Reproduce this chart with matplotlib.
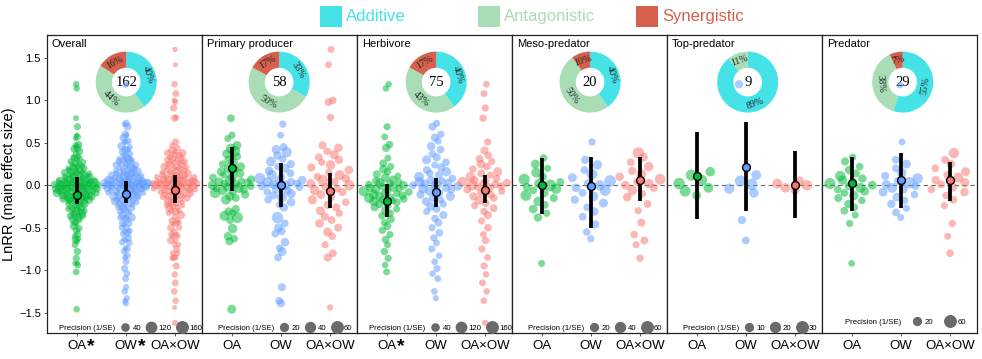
import numpy as np
import matplotlib.pyplot as plt
from matplotlib.lines import Line2D
from matplotlib.patches import Rectangle

plt.rcParams['font.family'] = ['Liberation Sans', 'DejaVu Sans']

# interaction-type colours and per-factor point colours
c_add = '#45E3E8'
c_ant = '#A8DDB5'
c_syn = '#D6604D'
col_oa = '#00BA38'
col_ow = '#619CFF'
col_int = '#F8766D'

groups = ['Overall', 'Primary producer', 'Herbivore', 'Meso-predator', 'Top-predator', 'Predator']
factors = ['OA', 'OW', 'OA×OW']

# effect sizes per study as (lnRR, precision 1/SE)
pp_oa = [(0.79, 20), (0.59, 15), (0.55, 14), (0.47, 28), (0.43, 45), (0.40, 52), (0.37, 30), (0.34, 18),
         (0.30, 22), (0.27, 35), (0.25, 16), (0.22, 24), (0.20, 40), (0.18, 18), (0.16, 30), (0.14, 26),
         (0.12, 14), (0.10, 38), (0.09, 20), (0.07, 22), (0.06, 48), (0.05, 16), (0.04, 30), (0.03, 24),
         (0.02, 18), (0.01, 26), (0.00, 35), (-0.01, 20), (-0.02, 28), (-0.03, 42), (-0.04, 16), (-0.05, 25),
         (-0.06, 32), (-0.08, 18), (-0.09, 45), (-0.11, 22), (-0.13, 30), (-0.15, 20), (-0.17, 38), (-0.28, 22),
         (-0.31, 26), (-0.33, 18), (-0.36, 40), (-0.38, 52), (-0.41, 20), (-0.51, 35), (-0.60, 24), (-0.63, 18),
         (-0.66, 22), (-1.46, 30)]
pp_ow = [(0.72, 16), (0.59, 14), (0.45, 20), (0.42, 32), (0.39, 45), (0.35, 24), (0.31, 18), (0.28, 38),
         (0.25, 22), (0.22, 16), (0.20, 30), (0.17, 26), (0.14, 20), (0.12, 42), (0.10, 18), (0.08, 55),
         (0.06, 28), (0.05, 35), (0.04, 22), (0.03, 48), (0.02, 18), (0.01, 30), (0.00, 40), (-0.01, 24),
         (-0.02, 20), (-0.04, 34), (-0.06, 26), (-0.08, 18), (-0.10, 30), (-0.12, 22), (-0.14, 44), (-0.17, 20),
         (-0.20, 26), (-0.23, 16), (-0.26, 24), (-0.38, 58), (-0.45, 20), (-0.50, 28), (-0.54, 22), (-0.57, 18),
         (-0.67, 26), (-0.74, 16), (-0.78, 30), (-0.85, 20), (-1.20, 22), (-1.36, 18), (-1.39, 24)]
pp_int = [(1.60, 14), (1.42, 12), (1.00, 18), (0.98, 20), (0.80, 16), (0.47, 22), (0.44, 26), (0.40, 18),
          (0.36, 30), (0.33, 20), (0.30, 24), (0.27, 16), (0.24, 35), (0.21, 22), (0.18, 28), (0.15, 18),
          (0.12, 40), (0.10, 20), (0.08, 26), (0.06, 48), (0.04, 22), (0.02, 30), (0.00, 45), (-0.02, 24),
          (-0.04, 18), (-0.06, 36), (-0.08, 22), (-0.11, 28), (-0.14, 20), (-0.17, 32), (-0.20, 18), (-0.23, 26),
          (-0.26, 22), (-0.30, 30), (-0.33, 16), (-0.37, 24), (-0.41, 20), (-0.45, 28), (-0.50, 22), (-0.55, 30),
          (-0.60, 18), (-0.70, 16), (-0.80, 20), (-0.85, 24), (-1.44, 10)]

hb_oa = [(1.19, 30), (1.14, 28), (0.69, 40), (0.57, 35), (0.48, 45), (0.44, 60), (0.32, 38), (0.26, 50),
         (0.22, 40), (0.19, 70), (0.16, 45), (0.13, 55), (0.11, 35), (0.09, 80), (0.07, 50), (0.05, 60),
         (0.04, 40), (0.03, 90), (0.02, 55), (0.01, 45), (0.00, 70), (-0.01, 50), (-0.02, 100), (-0.03, 60),
         (-0.04, 45), (-0.05, 80), (-0.06, 55), (-0.07, 120), (-0.08, 50), (-0.09, 65), (-0.10, 40), (-0.11, 90),
         (-0.12, 55), (-0.13, 70), (-0.14, 45), (-0.15, 110), (-0.16, 50), (-0.17, 60), (-0.18, 40), (-0.19, 85),
         (-0.20, 55), (-0.22, 70), (-0.24, 45), (-0.26, 60), (-0.28, 40), (-0.30, 75), (-0.33, 50), (-0.36, 45),
         (-0.40, 60), (-0.44, 40), (-0.48, 55), (-0.53, 45), (-0.58, 40), (-0.64, 50), (-0.70, 35), (-0.78, 45),
         (-0.86, 40), (-0.94, 30), (-1.02, 35)]
hb_ow = [(0.73, 40), (0.69, 55), (0.60, 45), (0.56, 60), (0.52, 40), (0.46, 70), (0.42, 50), (0.37, 45),
         (0.33, 60), (0.30, 80), (0.27, 50), (0.24, 40), (0.21, 65), (0.18, 55), (0.16, 90), (0.14, 45),
         (0.12, 60), (0.10, 110), (0.08, 50), (0.06, 70), (0.05, 45), (0.04, 100), (0.03, 55), (0.02, 65),
         (0.01, 130), (0.00, 50), (-0.01, 80), (-0.02, 45), (-0.03, 60), (-0.04, 95), (-0.05, 50), (-0.07, 70),
         (-0.09, 45), (-0.11, 60), (-0.13, 85), (-0.15, 50), (-0.17, 40), (-0.19, 65), (-0.22, 45), (-0.25, 75),
         (-0.28, 50), (-0.31, 40), (-0.35, 60), (-0.39, 45), (-0.44, 55), (-0.50, 40), (-0.56, 50), (-0.62, 45),
         (-0.68, 35), (-0.75, 40), (-0.83, 30), (-0.90, 35), (-0.98, 40), (-1.04, 30), (-1.10, 35), (-1.25, 30),
         (-1.33, 25)]
hb_int = [(1.19, 30), (1.08, 35), (0.91, 40), (0.79, 45), (0.51, 40), (0.41, 60), (0.35, 45), (0.31, 55),
          (0.28, 40), (0.25, 70), (0.22, 50), (0.19, 45), (0.16, 80), (0.14, 55), (0.12, 40), (0.10, 95),
          (0.08, 50), (0.06, 65), (0.05, 45), (0.04, 110), (0.03, 55), (0.02, 70), (0.01, 50), (0.00, 120),
          (-0.01, 60), (-0.02, 45), (-0.03, 85), (-0.05, 55), (-0.07, 40), (-0.09, 70), (-0.11, 50), (-0.13, 60),
          (-0.15, 45), (-0.18, 75), (-0.21, 50), (-0.24, 40), (-0.27, 55), (-0.31, 45), (-0.35, 60), (-0.42, 40),
          (-0.50, 50), (-0.58, 35), (-0.65, 45), (-0.75, 40), (-0.85, 35), (-0.95, 40), (-1.05, 30), (-1.15, 35),
          (-1.25, 30), (-1.36, 30), (-1.62, 25)]

ms_oa = [(0.32, 20), (0.25, 30), (0.20, 15), (0.15, 40), (0.10, 25), (0.07, 55), (0.04, 20), (0.02, 35),
         (0.00, 60), (-0.02, 25), (-0.04, 45), (-0.06, 18), (-0.09, 30), (-0.12, 50), (-0.15, 22), (-0.19, 35),
         (-0.23, 20), (-0.28, 28), (-0.33, 16), (-0.38, 24), (-0.92, 14)]
ms_ow = [(0.51, 16), (0.30, 22), (0.24, 35), (0.18, 20), (0.13, 50), (0.09, 30), (0.05, 62), (0.02, 25),
         (0.00, 45), (-0.03, 28), (-0.06, 55), (-0.09, 20), (-0.13, 38), (-0.17, 24), (-0.21, 30), (-0.26, 18),
         (-0.31, 26), (-0.37, 20), (-0.46, 22), (-0.55, 18), (-0.63, 16)]
ms_int = [(0.38, 60), (0.33, 28), (0.27, 20), (0.22, 35), (0.17, 22), (0.13, 40), (0.10, 25), (0.07, 50),
          (0.04, 20), (0.02, 32), (0.00, 28), (-0.03, 22), (-0.06, 38), (-0.10, 18), (-0.14, 26), (-0.22, 20),
          (-0.30, 16), (-0.44, 22), (-0.58, 18), (-0.65, 20), (-0.70, 14), (-0.86, 16)]

tp_oa = [(0.16, 18), (0.12, 28), (0.06, 22), (0.02, 30), (-0.03, 20), (-0.07, 25), (-0.12, 15)]
tp_ow = [(1.19, 12), (0.12, 20), (0.05, 28), (0.01, 30), (-0.04, 22), (-0.09, 18), (-0.41, 12), (-0.65, 10)]
tp_int = [(0.05, 16), (0.02, 20), (0.00, 24), (-0.03, 18), (-0.06, 14)]

pr_oa = [(0.33, 15), (0.28, 22), (0.22, 18), (0.18, 30), (0.14, 20), (0.11, 45), (0.08, 25), (0.06, 35),
         (0.04, 20), (0.02, 55), (0.00, 30), (-0.01, 22), (-0.03, 40), (-0.05, 18), (-0.07, 28), (-0.09, 20),
         (-0.12, 35), (-0.15, 22), (-0.18, 16), (-0.22, 26), (-0.26, 18), (-0.30, 20), (-0.35, 14), (-0.45, 16),
         (-0.92, 12)]
pr_ow = [(1.18, 12), (0.51, 14), (0.30, 20), (0.25, 28), (0.20, 18), (0.15, 35), (0.11, 22), (0.08, 45),
         (0.05, 25), (0.03, 60), (0.01, 30), (-0.01, 20), (-0.03, 40), (-0.05, 22), (-0.08, 30), (-0.11, 18),
         (-0.14, 26), (-0.18, 20), (-0.22, 24), (-0.27, 16), (-0.32, 20), (-0.38, 14)]
pr_int = [(0.38, 45), (0.30, 20), (0.25, 26), (0.20, 18), (0.16, 30), (0.12, 22), (0.09, 40), (0.06, 24),
          (0.03, 32), (0.01, 20), (-0.02, 28), (-0.05, 18), (-0.08, 26), (-0.12, 16), (-0.17, 22), (-0.24, 14),
          (-0.45, 16), (-0.60, 14), (-0.80, 18)]

# overall = every trophic group pooled
ov_oa = pp_oa + hb_oa + ms_oa + tp_oa + pr_oa
ov_ow = pp_ow + hb_ow + ms_ow + tp_ow + pr_ow
ov_int = pp_int + hb_int + ms_int + tp_int + pr_int

# model estimates with 95% CI, one value per group
oa_mean = [-0.12, 0.20, -0.18, 0.00, 0.11, 0.03]
oa_lo = [-0.22, -0.07, -0.37, -0.34, -0.40, -0.30]
oa_hi = [0.10, 0.45, 0.02, 0.32, 0.63, 0.33]
ow_mean = [-0.10, 0.00, -0.08, -0.01, 0.22, 0.06]
ow_lo = [-0.21, -0.26, -0.25, -0.50, -0.30, -0.27]
ow_hi = [0.05, 0.26, 0.08, 0.33, 0.74, 0.38]
int_mean = [-0.05, -0.07, -0.05, 0.06, 0.00, 0.06]
int_lo = [-0.21, -0.27, -0.21, -0.18, -0.39, -0.18]
int_hi = [0.12, 0.14, 0.12, 0.33, 0.40, 0.28]

# share of interaction types and number of studies
pct_add = [40, 33, 40, 40, 89, 55]
pct_ant = [44, 50, 43, 50, 11, 38]
pct_syn = [16, 17, 17, 10, 0, 7]
n_studies = [162, 58, 75, 20, 9, 29]

prec_breaks = [[40, 120, 160], [20, 40, 60], [40, 120, 160], [20, 40, 60], [10, 20, 30], [20, 60]]


def vdc(n, base=2):
    out = []
    for i in range(1, n + 1):
        q, denom, k = 0.0, 1.0, i
        while k:
            k, r = divmod(k, base)
            denom *= base
            q += r / denom
        out.append(q)
    return np.array(out)


def quasi_offsets(y, width=0.48, adjust=0.6):
    y = np.asarray(y, float)
    n = len(y)
    if n < 2:
        return np.zeros(n)
    sd = y.std(ddof=1)
    iqr = np.subtract(*np.percentile(y, [75, 25]))
    spread = min(sd, iqr / 1.34) if iqr > 0 else sd
    bw = 0.9 * spread * n ** -0.2 * adjust
    d = np.exp(-0.5 * ((y[:, None] - y[None, :]) / bw) ** 2).sum(1)
    d /= d.max()
    rank = np.argsort(np.argsort(y, kind='stable'), kind='stable')
    return (vdc(n)[rank] - 0.5) * 2 * width * d


def diam(p, pmax, dmin=2.0, dmax=8.3):
    # marker diameter in points, area-like scaling with a small floor
    return dmin + (dmax - dmin) * np.sqrt(np.asarray(p, float) / pmax)


panel_data = [(ov_oa, ov_ow, ov_int), (pp_oa, pp_ow, pp_int), (hb_oa, hb_ow, hb_int),
              (ms_oa, ms_ow, ms_int), (tp_oa, tp_ow, tp_int), (pr_oa, pr_ow, pr_int)]
colors = [col_oa, col_ow, col_int]
donut_x = [0.51, 0.497, 0.51, 0.503, 0.52, 0.52]
starred = {0: [0, 1], 2: [0]}
star_dx = [10.2, 11.8, 0]  # offset (pt) right of the tick label centre

fig, axes = plt.subplots(1, 6, figsize=(9.82, 3.59), dpi=100, sharey=True)
fig.subplots_adjust(left=0.048, right=0.995, top=0.9025, bottom=0.0724, wspace=0)

for g, ax in enumerate(axes):
    pmax = prec_breaks[g][-1]
    means = [oa_mean[g], ow_mean[g], int_mean[g]]
    los = [oa_lo[g], ow_lo[g], int_lo[g]]
    his = [oa_hi[g], ow_hi[g], int_hi[g]]
    ax.axhline(0, color='#666666', ls=(0, (4, 3)), lw=0.8, zorder=1.5)
    for j, pts in enumerate(panel_data[g]):
        vals = np.array([p[0] for p in pts])
        prec = np.array([p[1] for p in pts])
        x = j + quasi_offsets(vals)
        ax.scatter(x, vals, s=diam(prec, pmax) ** 2, color=colors[j], alpha=0.52,
                   linewidths=0, zorder=2)
        ax.vlines(j, los[j], his[j], color='black', lw=2.7, zorder=4)
        ax.scatter([j], [means[j]], s=32, facecolor=colors[j], edgecolor='black',
                   linewidths=1, zorder=5)

    ax.set_xlim(-0.6, 2.55)
    ax.set_ylim(-1.74, 1.77)
    ax.set_xticks([0, 1, 2])
    ax.set_xticklabels(factors, fontsize=9.5)
    ax.tick_params(axis='x', length=2.5, width=0.6, pad=2.5, color='#444444')
    if g == 0:
        ax.set_yticks([-1.5, -1.0, -0.5, 0.0, 0.5, 1.0, 1.5])
        ax.tick_params(axis='y', length=2.5, width=0.6, pad=2, labelsize=8, color='#444444')
        ax.set_ylabel('LnRR (main effect size)', fontsize=10.5)
        ax.yaxis.set_label_coords(-0.2, 0.5)
    else:
        ax.tick_params(axis='y', left=False)
    for sp in ax.spines.values():
        sp.set_linewidth(0.9)
        sp.set_color('#222222')

    ax.text(0.03, 0.985, groups[g], transform=ax.transAxes, ha='left', va='top', fontsize=8)

    for j in starred.get(g, []):
        ax.annotate('*', xy=(j, 0), xycoords=('data', 'axes fraction'), xytext=(star_dx[j], -10),
                    textcoords='offset points', ha='center', va='center', fontsize=14,
                    fontweight='bold')

    # donut of interaction types
    w, h = 61 / 155, 61 / 298
    ins = ax.inset_axes([donut_x[g] - w / 2, 0.842 - h / 2, w, h])
    ins.set_zorder(1)
    shares = [pct_add[g], pct_ant[g], pct_syn[g]]
    keep = [k for k in range(3) if shares[k] > 0]
    ins.pie([shares[k] for k in keep], colors=[[c_add, c_ant, c_syn][k] for k in keep],
            startangle=90, counterclock=False, radius=1,
            wedgeprops=dict(width=0.53, edgecolor='none'))
    ins.set_xlim(-1, 1)
    ins.set_ylim(-1, 1)
    ins.axis('off')
    cum = 0
    for k in keep:
        mid = np.deg2rad(90 - (cum + shares[k] / 2) * 3.6)
        rot = np.rad2deg(mid) - 90
        rot = (rot + 90) % 180 - 90
        ins.text(0.74 * np.cos(mid), 0.74 * np.sin(mid), f'{shares[k]}%', rotation=rot,
                 ha='center', va='center', fontsize=7, family='Liberation Serif', color='#222222',
                 rotation_mode='anchor')
        cum += shares[k]
    ins.text(0, 0, str(n_studies[g]), ha='center', va='center', fontsize=10.5,
             family='Liberation Serif')

    # precision size key
    handles = [Line2D([], [], ls='none')]
    labels = ['Precision (1/SE)']
    for b in prec_breaks[g]:
        handles.append(Line2D([], [], ls='none', marker='o', ms=diam(b, pmax),
                              mfc='#6a6a6a', mec='#6a6a6a'))
        labels.append(str(b))
    two_keys = len(prec_breaks[g]) == 2
    ax.legend(handles, labels, ncol=len(handles), loc='lower center',
              bbox_to_anchor=(0.5, 0.005 if two_keys else -0.015),
              frameon=False, fontsize=5.6, handlelength=1.0, handletextpad=0.45,
              columnspacing=1.6 if two_keys else 0.8, borderpad=0.2)

# interaction-type key across the top
for x0, label, c in [(320, 'Additive', c_add), (478, 'Antagonistic', c_ant), (636, 'Synergistic', c_syn)]:
    fig.add_artist(Rectangle((x0 / 982, 1 - 27 / 359), 22 / 982, 21 / 359,
                             transform=fig.transFigure, color=c, lw=0))
    fig.text((x0 + 26) / 982, 1 - 16.5 / 359, label, color=c, fontsize=12, va='center', ha='left')

fig.savefig('out.png', dpi=100)
